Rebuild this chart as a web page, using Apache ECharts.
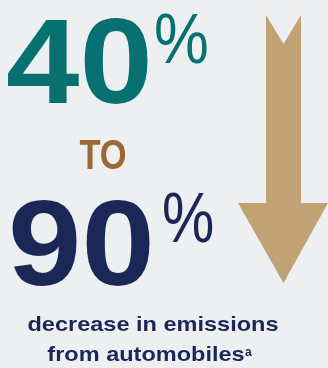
<!DOCTYPE html>
<html><head><meta charset="utf-8">
<script src="https://cdn.jsdelivr.net/npm/echarts@6/dist/echarts.min.js"></script>
<style>html,body{margin:0;padding:0;background:#edeff1}#c{width:328px;height:368px}</style>
</head><body><div id="c"></div>
<script>
var rangeValues = [40, 90];
var rangeJoiner = 'TO';
var captionLines = ['decrease in emissions', 'from automobiles'];
var captionNote = 'a';

var chart = echarts.init(document.getElementById('c'), null, {renderer: 'canvas'});
var F = '"Liberation Sans", Arial, sans-serif';
function txt(x, y, text, font, fill, align, sx) {
  return {type: 'text', x: x, y: y, scaleX: sx || 1, originX: 0, originY: 0,
    style: {text: text, font: font, fill: fill, align: align || 'left', verticalAlign: 'top'}};
}
chart.setOption({
  backgroundColor: '#edeff1',
  animation: false,
  graphic: [
    {type: 'polygon', shape: {points: [[266,15],[283.5,44],[301,15],[301,203],[328,203],[283.5,283],[238,203],[266,203]]},
      style: {fill: '#c1a275'}},
    txt(6, 10, String(rangeValues[0]), 'bold 120px ' + F, '#077070', 'left', 1.1),
    txt(154, 9, '%', '70px ' + F, '#077070', 'left', 0.88),
    txt(103, 136, rangeJoiner, 'bold 42px ' + F, '#9c6834', 'center', 0.82),
    txt(8, 192, String(rangeValues[1]), 'bold 120px ' + F, '#1a2858', 'left', 1.1),
    txt(162, 188, '%', '70px ' + F, '#1a2858', 'left', 0.84),
    txt(153, 315, captionLines[0], 'bold 21px ' + F, '#1a2858', 'center', 1.12),
    txt(146, 345, captionLines[1], 'bold 21px ' + F, '#1a2858', 'center', 1.12),
    txt(245, 347, captionNote, 'bold 12px ' + F, '#1a2858')
  ]
});
</script></body></html>
